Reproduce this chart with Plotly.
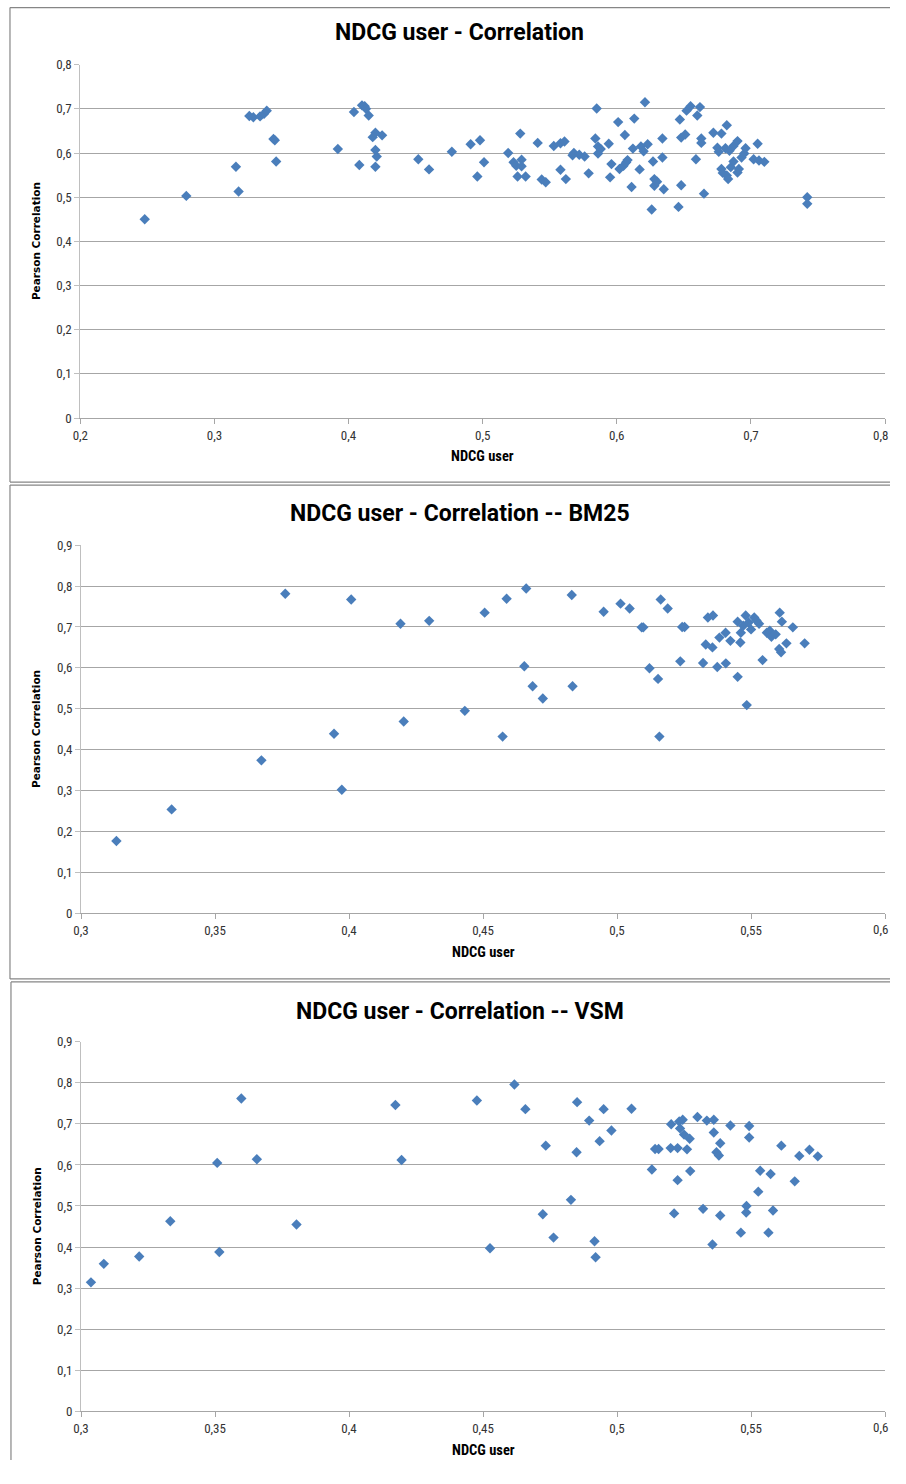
import plotly.graph_objects as go

# ---------------- data ----------------
# Panel 1: NDCG user - Correlation
x1 = [0.248, 0.279, 0.316, 0.318, 0.326, 0.329, 0.334, 0.337, 0.339, 0.344,
      0.345, 0.346, 0.392, 0.404, 0.408, 0.410, 0.412, 0.413, 0.415, 0.418,
      0.420, 0.420, 0.421, 0.420, 0.425, 0.452, 0.460, 0.477, 0.491, 0.498,
      0.496, 0.501, 0.519, 0.523, 0.525, 0.526, 0.528, 0.529, 0.529, 0.532,
      0.541, 0.544, 0.547, 0.553, 0.558, 0.561, 0.558, 0.562, 0.567, 0.568,
      0.572, 0.576, 0.579, 0.584, 0.585, 0.586, 0.586, 0.588, 0.594, 0.595,
      0.596, 0.601, 0.602, 0.605, 0.606, 0.607, 0.608, 0.611, 0.612, 0.613,
      0.617, 0.618, 0.620, 0.621, 0.623, 0.626, 0.627, 0.628, 0.628, 0.630,
      0.634, 0.634, 0.635, 0.646, 0.647, 0.648, 0.648, 0.651, 0.652, 0.655,
      0.659, 0.660, 0.662, 0.663, 0.663, 0.665, 0.672, 0.675, 0.676, 0.678,
      0.678, 0.679, 0.681, 0.682, 0.682, 0.683, 0.684, 0.685, 0.687, 0.687,
      0.690, 0.690, 0.691, 0.693, 0.695, 0.696, 0.702, 0.705, 0.706, 0.710,
      0.742, 0.742]
y1 = [0.450, 0.503, 0.569, 0.513, 0.684, 0.681, 0.683, 0.689, 0.696, 0.632,
      0.629, 0.581, 0.609, 0.693, 0.573, 0.708, 0.706, 0.700, 0.685, 0.636,
      0.646, 0.607, 0.592, 0.569, 0.640, 0.586, 0.563, 0.603, 0.620, 0.629,
      0.547, 0.579, 0.600, 0.579, 0.571, 0.547, 0.644, 0.585, 0.570, 0.547,
      0.623, 0.540, 0.534, 0.616, 0.622, 0.626, 0.562, 0.541, 0.595, 0.600,
      0.596, 0.592, 0.554, 0.633, 0.701, 0.599, 0.615, 0.609, 0.621, 0.545,
      0.575, 0.670, 0.564, 0.571, 0.641, 0.579, 0.584, 0.523, 0.610, 0.678,
      0.563, 0.615, 0.604, 0.715, 0.620, 0.472, 0.581, 0.541, 0.526, 0.535,
      0.590, 0.633, 0.518, 0.478, 0.676, 0.635, 0.527, 0.642, 0.696, 0.706,
      0.586, 0.685, 0.704, 0.633, 0.623, 0.508, 0.646, 0.612, 0.603, 0.644,
      0.564, 0.555, 0.611, 0.663, 0.549, 0.541, 0.605, 0.568, 0.616, 0.581,
      0.627, 0.556, 0.564, 0.590, 0.599, 0.611, 0.586, 0.621, 0.583, 0.580,
      0.500, 0.485]

# Panel 2: BM25
x2 = [0.3132, 0.3338, 0.3673, 0.3762, 0.3944, 0.3973, 0.4008, 0.4192, 0.4204, 0.4299,
      0.4432, 0.4506, 0.4573, 0.4588, 0.4654, 0.4661, 0.4685, 0.4723, 0.4831, 0.4834,
      0.4950, 0.5013, 0.5047, 0.5092, 0.5098, 0.5121, 0.5153, 0.5163, 0.5189, 0.5236,
      0.5243, 0.5252, 0.5321, 0.5331, 0.5339, 0.5358, 0.5356, 0.5374, 0.5382, 0.5405,
      0.5406, 0.5423, 0.5450, 0.5450, 0.5462, 0.5460, 0.5471, 0.5480, 0.5484, 0.5491,
      0.5500, 0.5512, 0.5520, 0.5530, 0.5543, 0.5559, 0.5570, 0.5576, 0.5592, 0.5607,
      0.5605, 0.5612, 0.5615, 0.5632, 0.5656, 0.5700, 0.5158]
y2 = [0.177, 0.254, 0.374, 0.781, 0.439, 0.302, 0.767, 0.708, 0.469, 0.715,
      0.495, 0.735, 0.432, 0.769, 0.604, 0.794, 0.555, 0.525, 0.778, 0.555,
      0.737, 0.757, 0.745, 0.699, 0.699, 0.599, 0.573, 0.767, 0.745, 0.616,
      0.700, 0.700, 0.612, 0.657, 0.723, 0.728, 0.650, 0.602, 0.674, 0.686,
      0.611, 0.666, 0.578, 0.713, 0.686, 0.662, 0.703, 0.728, 0.509, 0.711,
      0.694, 0.723, 0.716, 0.708, 0.619, 0.686, 0.691, 0.676, 0.682, 0.735,
      0.646, 0.638, 0.713, 0.660, 0.699, 0.660, 0.432]

# Panel 3: VSM
x3 = [0.3037, 0.3085, 0.3217, 0.3333, 0.3508, 0.3516, 0.3598, 0.3656, 0.3804, 0.4173,
      0.4196, 0.4477, 0.4526, 0.4617, 0.4658, 0.4723, 0.4734, 0.4763, 0.4828, 0.4849,
      0.4851, 0.4896, 0.4916, 0.4920, 0.4935, 0.4950, 0.4979, 0.5054, 0.5130, 0.5142,
      0.5155, 0.5202, 0.5200, 0.5213, 0.5226, 0.5226, 0.5232, 0.5235, 0.5245, 0.5250,
      0.5261, 0.5271, 0.5273, 0.5300, 0.5321, 0.5335, 0.5356, 0.5361, 0.5361, 0.5385,
      0.5371, 0.5380, 0.5385, 0.5423, 0.5462, 0.5483, 0.5482, 0.5493, 0.5493, 0.5527,
      0.5534, 0.5565, 0.5573, 0.5582, 0.5613, 0.5663, 0.5680, 0.5718, 0.5749]
y3 = [0.314, 0.359, 0.377, 0.463, 0.605, 0.388, 0.762, 0.614, 0.455, 0.746,
      0.612, 0.757, 0.397, 0.796, 0.736, 0.480, 0.647, 0.423, 0.515, 0.631,
      0.753, 0.708, 0.414, 0.375, 0.658, 0.736, 0.684, 0.737, 0.589, 0.639,
      0.639, 0.699, 0.641, 0.482, 0.563, 0.641, 0.706, 0.689, 0.710, 0.674,
      0.638, 0.664, 0.585, 0.717, 0.493, 0.708, 0.406, 0.710, 0.679, 0.653,
      0.631, 0.623, 0.477, 0.696, 0.435, 0.500, 0.484, 0.695, 0.667, 0.535,
      0.586, 0.435, 0.578, 0.489, 0.647, 0.560, 0.622, 0.637, 0.621]

titles = ["NDCG user - Correlation", "NDCG user - Correlation -- BM25",
          "NDCG user - Correlation -- VSM"]
x_title = "NDCG user"
y_title = "Pearson Correlation"

x1_ticks = [0.2, 0.3, 0.4, 0.5, 0.6, 0.7, 0.8]
x1_labels = ["0,2", "0,3", "0,4", "0,5", "0,6", "0,7", "0,8"]
y1_ticks = [0, 0.1, 0.2, 0.3, 0.4, 0.5, 0.6, 0.7, 0.8]
y1_labels = ["0", "0,1", "0,2", "0,3", "0,4", "0,5", "0,6", "0,7", "0,8"]
x23_ticks = [0.3, 0.35, 0.4, 0.45, 0.5, 0.55, 0.6]
x23_labels = ["0,3", "0,35", "0,4", "0,45", "0,5", "0,55", "0,6"]
y23_ticks = [0, 0.1, 0.2, 0.3, 0.4, 0.5, 0.6, 0.7, 0.8, 0.9]
y23_labels = ["0", "0,1", "0,2", "0,3", "0,4", "0,5", "0,6", "0,7", "0,8", "0,9"]

# ---------------- layout helpers ----------------
# The page body keeps the browser's default 8px margin, so the figure is made
# 16px smaller than the window and page positions are offset by that margin.
PAGE_W, PAGE_H = 906, 1484
OFF = 8
W, H = PAGE_W - 2 * OFF, PAGE_H - 2 * OFF
MARKER = dict(symbol="diamond", size=8, color="#4a7ebb", line=dict(width=0))
NARROW = "Liberation Sans Narrow, Roboto Condensed, Roboto, sans-serif"
TICKFONT = dict(family=NARROW, size=13, color="#333333")
GRID = "#a6a6a6"
AXLINE = "#bfbfbf"
FRAME = "#868686"


def px(x):
    return min(max((x - OFF) / W, 0.0), 1.0)


def py(y):
    return min(max(1 - (y - OFF) / H, 0.0), 1.0)


panels = [
    # (x, y, xrange, yrange, xticks, xlabels, yticks, ylabels, left, right, top, bottom) in page px
    (x1, y1, [0.2, 0.8], [0, 0.8], x1_ticks, x1_labels, y1_ticks, y1_labels, 81, 893, 66.3, 423.3),
    (x2, y2, [0.3, 0.6], [0, 0.9], x23_ticks, x23_labels, y23_ticks, y23_labels, 81.7, 893, 551.7, 923.7),
    (x3, y3, [0.3, 0.6], [0, 0.9], x23_ticks, x23_labels, y23_ticks, y23_labels, 81.7, 893, 1053.5, 1426.7),
]
# frame edges in page px: (left, top, bottom or None)
frames = [(10, 8.6, 488), (10, 491, 990), (11, 993, None)]
title_y = [34, 520, 1023]
xtitle_y = [462, 963, 1466]
xlabel_y = [441, 940, 1443]

fig = go.Figure()
annotations = []
shapes = []
for i, (xd, yd, xr, yr, xt, xl, yt, yl, L, R, T, B) in enumerate(panels):
    n = "" if i == 0 else str(i + 1)
    fig.add_trace(go.Scatter(x=xd, y=yd, mode="markers", marker=MARKER,
                             xaxis="x" + n, yaxis="y" + n, showlegend=False,
                             cliponaxis=False))
    # last x tick label would be clipped by the div edge: shown as annotation instead
    shown = list(xl[:-1]) + [""]
    fig.update_layout(**{
        "xaxis" + n: dict(domain=[px(L), px(R)], range=xr, anchor="y" + n,
                          tickvals=xt, ticktext=shown, tickfont=TICKFONT,
                          showgrid=False, zeroline=False, showline=True,
                          linecolor=GRID, linewidth=1, ticks="outside",
                          ticklen=5, tickcolor=GRID, fixedrange=True),
        "yaxis" + n: dict(domain=[py(B), py(T)], range=yr, anchor="x" + n,
                          tickvals=yt, ticktext=yl, tickfont=TICKFONT,
                          showgrid=True, gridcolor=GRID, gridwidth=1,
                          zeroline=False, showline=True, linecolor=AXLINE,
                          linewidth=1, ticks="outside", ticklen=5,
                          tickcolor=AXLINE, fixedrange=True),
    })
    annotations.append(dict(text=xl[-1], x=1.0, y=py(xlabel_y[i]), xref="paper", yref="paper",
                            showarrow=False, xanchor="right", yanchor="middle",
                            font=TICKFONT))
    fl, ft, fb = frames[i]
    shapes.append(dict(type="line", xref="paper", yref="paper",
                       x0=px(fl), x1=1.0, y0=py(ft), y1=py(ft),
                       line=dict(color=FRAME, width=1.2), layer="below"))
    shapes.append(dict(type="line", xref="paper", yref="paper",
                       x0=px(fl), x1=px(fl), y0=py(fb) if fb else 0.0, y1=py(ft),
                       line=dict(color=FRAME, width=1.2), layer="below"))
    if fb:
        shapes.append(dict(type="line", xref="paper", yref="paper",
                           x0=px(fl), x1=1.0, y0=py(fb), y1=py(fb),
                           line=dict(color=FRAME, width=1.2), layer="below"))
    annotations.append(dict(text="<b>%s</b>" % titles[i], x=px(464), y=py(title_y[i]),
                            xref="paper", yref="paper", showarrow=False,
                            xanchor="center", yanchor="middle",
                            font=dict(family="Roboto, sans-serif", size=23, color="#000000")))
    annotations.append(dict(text="<b>%s</b>" % x_title, x=px((L + R) / 2), y=py(xtitle_y[i]),
                            xref="paper", yref="paper", showarrow=False,
                            xanchor="center", yanchor="middle",
                            font=dict(family=NARROW, size=14.5, color="#000000")))
    annotations.append(dict(text="<b>%s</b>" % y_title, x=px(37), y=py((T + B) / 2),
                            xref="paper", yref="paper", showarrow=False, textangle=-90,
                            xanchor="center", yanchor="middle",
                            font=dict(family="DejaVu Sans, sans-serif", size=10.5,
                                      color="#000000")))

fig.update_layout(width=W, height=H, margin=dict(l=0, r=0, t=0, b=0),
                  paper_bgcolor="white", plot_bgcolor="white",
                  annotations=annotations, shapes=shapes, showlegend=False)

fig.write_html("out.html")
